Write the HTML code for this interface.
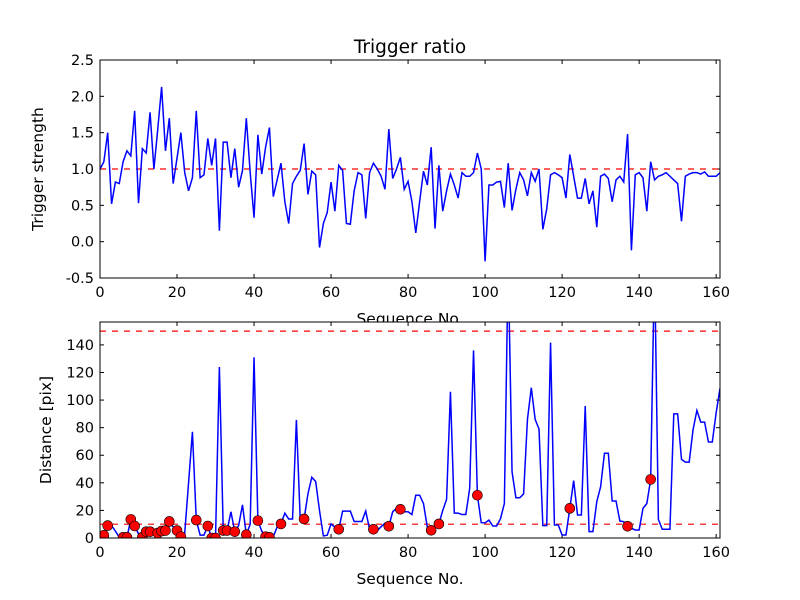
<!DOCTYPE html>
<html><head><meta charset="utf-8"><style>
body{margin:0;background:#fff}
svg{display:block;font-family:"DejaVu Sans","Liberation Sans",sans-serif}
</style></head><body>
<svg id="chart" width="800" height="600" viewBox="0 0 800 600" xmlns="http://www.w3.org/2000/svg">
<rect width="800" height="600" fill="#fff"/>
<defs>
<clipPath id="c1"><rect x="100" y="60" width="620" height="218"/></clipPath>
<clipPath id="c2"><rect x="100" y="322" width="620" height="216"/></clipPath>
</defs>
</svg>
<script>
const ratioValues=[1.0,1.1,1.5,0.52,0.82,0.8,1.1,1.25,1.18,1.8,0.53,1.28,1.22,1.78,1.0,1.55,2.13,1.25,1.7,0.8,1.15,1.5,0.95,0.7,0.88,1.8,0.88,0.92,1.42,1.05,1.42,0.15,1.37,1.37,0.88,1.28,0.75,0.98,1.7,0.95,0.33,1.47,0.93,1.3,1.57,0.62,0.85,1.08,0.55,0.25,0.8,0.9,0.98,1.35,0.65,0.97,0.92,-0.08,0.25,0.4,0.82,0.42,1.05,0.98,0.25,0.24,0.7,0.95,0.92,0.32,0.95,1.08,1.0,0.9,0.72,1.55,0.87,1.0,1.16,0.72,0.83,0.55,0.12,0.55,0.97,0.78,1.3,0.18,1.05,0.42,0.7,0.93,0.78,0.6,0.95,0.9,0.9,0.95,1.22,1.0,-0.27,0.78,0.78,0.82,0.83,0.47,1.08,0.43,0.72,0.95,0.85,0.63,0.95,0.83,1.0,0.17,0.45,0.92,0.95,0.92,0.88,0.6,1.2,0.9,0.6,0.6,0.87,0.52,0.7,0.2,0.9,0.93,0.87,0.55,0.85,0.9,0.82,1.48,-0.12,0.92,0.95,0.88,0.42,1.1,0.85,0.9,0.92,0.95,0.9,0.85,0.8,0.28,0.9,0.93,0.95,0.95,0.93,0.96,0.9,0.9,0.9,0.95];
const distValues=[3,2,9,9,5,0.5,0.5,0.5,13.5,8.7,3,0.6,4.6,4.6,5,3.6,5,5.4,12,8,5.4,1,3.5,40,77,13,2.1,2.1,8.7,0,0,124,5.4,5.4,19,4.6,9,24,2.4,10,131,12.6,5,1,0.5,1,8,10.2,18,13.8,13.8,85.6,13,13.8,32,44,41,20,1.5,2,10.2,7.8,6.3,19.5,19.5,19.5,12,12,12,19.5,6.3,6.3,5.3,8.2,10.7,8.5,19,21.6,20.8,19,19,17,31,31,25,7.7,5.6,8.2,10.2,20,28,106,18,18,17,17,36,136,31,11.1,11,13,8.7,8.7,14,25,200,48,29.2,29.2,32,86,109,86,79,9,9,141.6,9.4,9.4,2.2,2.2,21.5,41.6,16.7,16.7,95.7,4.6,4.6,26.3,37.2,61.4,61.4,26.8,26.8,12.3,11.8,8.5,7,5.8,5.8,21.5,25,42.5,200,13.5,6.3,6.3,6.3,90,90,57,55,55,78.5,92.5,84,84,69.6,69.6,90.7,108.5];
const dotIndex=[1,2,6,7,8,9,11,12,13,15,16,17,18,20,21,25,28,29,30,32,33,35,38,41,43,44,47,53,62,71,75,78,86,88,98,122,137,143];
const xTicks=[0,20,40,60,80,100,120,140,160];
const yTicksTop=[-0.5,0,0.5,1.0,1.5,2.0,2.5];
const yTicksBot=[0,20,40,60,80,100,120,140];
const refTop=[1.0];
const refBot=[10,150];

const svg=document.getElementById('chart');
const NS='http://www.w3.org/2000/svg';
function mk(tag,attrs,parent){const e=document.createElementNS(NS,tag);for(const k in attrs)e.setAttribute(k,attrs[k]);(parent||svg).appendChild(e);return e;}
const X0=100,X1=720,XMAX=161;
const sx=v=>X0+(X1-X0)*v/XMAX;
const syT=v=>278-(v+0.5)*(218/3);
const syB=v=>538-v*(216/156.6);

function axes(name,top,bot,ticks,sy,fmt,ylabel,ylx){
  const g=mk('g',{});
  
  
  mk('rect',{x:X0,y:top,width:X1-X0,height:bot-top,fill:'#fff'},g);
  xTicks.forEach(t=>{const x=sx(t);
    mk('line',{x1:x,y1:bot,x2:x,y2:bot-4,stroke:'#000'},g);
    mk('line',{x1:x,y1:top,x2:x,y2:top+4,stroke:'#000'},g);
    const tx=mk('text',{x:x,y:bot+19,'text-anchor':'middle','font-size':14.5},g);tx.textContent=t;
    
    });
  ticks.forEach(t=>{const y=sy(t);
    mk('line',{x1:X0,y1:y,x2:X0+4,y2:y,stroke:'#000'},g);
    mk('line',{x1:X1,y1:y,x2:X1-4,y2:y,stroke:'#000'},g);
    const tx=mk('text',{x:X0-6,y:y+5,'text-anchor':'end','font-size':14.5},g);tx.textContent=fmt(t);
    
    });
  const yl=mk('text',{x:ylx,y:(top+bot)/2,'text-anchor':'middle','font-size':15.5,transform:`rotate(-90 ${ylx} ${(top+bot)/2})`},g);
  yl.textContent=ylabel;
  
  
  return g;
}

const t=mk('text',{x:410,y:53,'text-anchor':'middle','font-size':18.5});t.textContent='Trigger ratio';


const gT=axes('top-axes',60,278,yTicksTop,syT,v=>v.toFixed(1),'Trigger strength',43);
refTop.forEach(v=>{const l=mk('line',{x1:X0,x2:X1,y1:syT(v),y2:syT(v),stroke:'#f00','stroke-width':1.2,'stroke-dasharray':'6,6'},gT);
  
  });
const pT=mk('polyline',{points:ratioValues.map((v,i)=>sx(i)+','+syT(v)).join(' '),fill:'none',stroke:'#00f','stroke-width':1.5,'clip-path':'url(#c1)'},gT);


mk('rect',{x:X0,y:60,width:620,height:218,fill:'none',stroke:'#000'},gT);
const xl1=mk('text',{x:410,y:324,'text-anchor':'middle','font-size':15.5});xl1.textContent='Sequence No.';



const gB=axes('bottom-axes',322,538,yTicksBot,syB,v=>v,'Distance [pix]',51);
refBot.forEach(v=>{const l=mk('line',{x1:X0,x2:X1,y1:syB(v),y2:syB(v),stroke:'#f00','stroke-width':1.2,'stroke-dasharray':'6,6'},gB);
  
  });
const pB=mk('polyline',{points:distValues.map((v,i)=>sx(i)+','+syB(v)).join(' '),fill:'none',stroke:'#00f','stroke-width':1.5,'clip-path':'url(#c2)'},gB);


dotIndex.forEach(i=>{const c=mk('circle',{cx:sx(i),cy:syB(distValues[i]),r:5,fill:'#f00',stroke:'#000','stroke-width':0.6,'clip-path':'url(#c2)'},gB);
  
  });
mk('rect',{x:X0,y:322,width:620,height:216,fill:'none',stroke:'#000'},gB);
const xl2=mk('text',{x:410,y:584,'text-anchor':'middle','font-size':15.5});xl2.textContent='Sequence No.';


</script>
</body></html>
